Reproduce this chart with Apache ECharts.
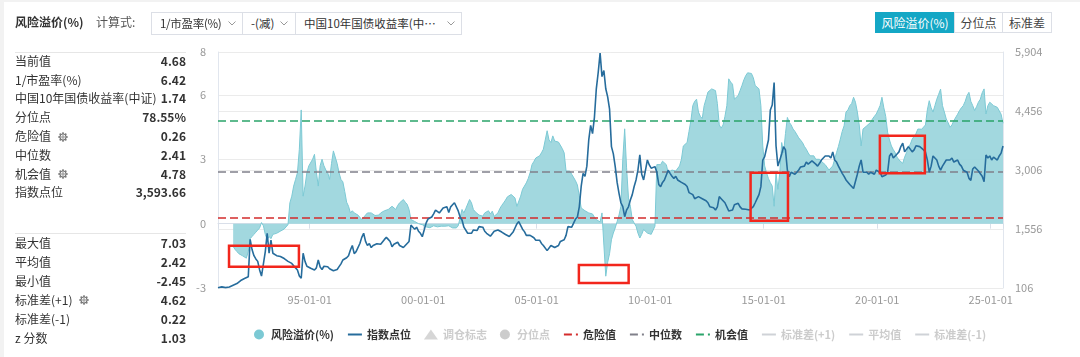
<!DOCTYPE html>
<html><head><meta charset="utf-8">
<script src="https://cdn.jsdelivr.net/npm/echarts@6/dist/echarts.min.js"></script>
<style>
html,body{margin:0;padding:0;width:1080px;height:357px;overflow:hidden;background:#f2f2f2;font-family:'Noto Sans CJK SC','Noto Sans',sans-serif;color:#333;}
#card{position:absolute;left:4px;top:2px;width:1076px;height:355px;background:#fff;}
#chart{position:absolute;left:0;top:0;width:1080px;height:357px;}
.abs{position:absolute;white-space:nowrap;}
.title{left:15px;top:13px;font-size:12px;font-weight:bold;line-height:18px;color:#333;}
.calc{left:96px;top:13px;font-size:12px;line-height:18px;color:#555;}
.dd{position:absolute;top:12px;height:23px;border:1px solid #dcdfe6;box-sizing:border-box;font-size:11.5px;line-height:21px;padding-left:8px;color:#333;background:#fff;}
.dd svg{position:absolute;top:8px;}
.btn{position:absolute;top:12px;height:21px;box-sizing:border-box;border:1px solid #dcdfe6;font-size:12px;line-height:19px;text-align:center;color:#444;background:#fff;}
.btn.on{background:#14a7c5;border-color:#14a7c5;color:#fff;}
.row{position:absolute;left:15px;width:171px;height:18px;line-height:18px;font-size:12px;display:flex;justify-content:space-between;color:#333;}
.row b{font-weight:bold;color:#333;}
.gear{display:inline-block;vertical-align:middle;margin-left:7px;margin-top:-2px;}
.sep{position:absolute;left:15px;width:171px;height:1px;background:#e6e6e6;}
</style>
</head><body>
<div id="card"></div>
<div id="chart"></div>
<div class="abs title">风险溢价(%)</div>
<div class="abs calc">计算式:</div>
<div class="dd" style="left:151px;width:92px;letter-spacing:-0.3px;">1/市盈率(%)<svg style="left:76px" width="8" height="5"><polyline points="0.5,0.5 4,4 7.5,0.5" fill="none" stroke="#999" stroke-width="1"/></svg></div>
<div class="dd" style="left:242px;width:54px;">-(减)<svg style="left:37px" width="8" height="5"><polyline points="0.5,0.5 4,4 7.5,0.5" fill="none" stroke="#999" stroke-width="1"/></svg></div>
<div class="dd" style="left:295px;width:167px;">中国10年国债收益率(中…<svg style="left:151px" width="8" height="5"><polyline points="0.5,0.5 4,4 7.5,0.5" fill="none" stroke="#999" stroke-width="1"/></svg></div>
<div class="btn on" style="left:875px;width:80px;">风险溢价(%)</div>
<div class="btn" style="left:954px;width:49px;">分位点</div>
<div class="btn" style="left:1002px;width:50px;">标准差</div>
<div id="panel"></div>
<script>
// ---------------- data ----------------
const firstMonth = [1990, 12];
const statsTop = [['当前值', '4.68', false], ['1/市盈率(%)', '6.42', false], ['中国10年国债收益率(中证)', '1.74', false], ['分位点', '78.55%', false], ['危险值', '0.26', true], ['中位数', '2.41', false], ['机会值', '4.78', true], ['指数点位', '3,593.66', false]];
const statsBottom = [['最大值', '7.03', false], ['平均值', '2.42', false], ['最小值', '-2.45', false], ['标准差(+1)', '4.62', true], ['标准差(-1)', '0.22', false], ['z 分数', '1.03', false]];

const index1990s = [110,
  131,133,125,115,113,130,140,175,185,215,230,290,
  310,340,370,384,1300,1050,900,820,760,550,400,700,
  1000,1450,960,1280,960,980,900,870,880,850,830,800,
  760,740,710,650,600,548,400,344,959,760,640,620,
  590,570,548,600,794,620,560,640,680,630,580,548,
  530,507,560,630,700,794,800,850,900,1040,1150,950,
  1000,1020,1200,1350,1450,1250,1150,1200,1100,1150,1150,1194,
  1200,1180,1200,1300,1350,1300,1250,1120,1180,1200,1230,1150,
  1130,1100,1150,1120,1250,1650,1600,1550,1600,1500,1450,1366];
const index2000s = [
  1530,1700,1800,1836,1850,1928,2020,2040,1950,1990,2070,2073,
  2100,1960,2100,2150,2200,2216,2000,1850,1777,1600,1600,1450,
  1450,1450,1532,1550,1520,1614,1580,1600,1500,1450,1409,1380,
  1368,1500,1480,1532,1550,1480,1470,1420,1380,1370,1400,1480,
  1580,1680,1737,1700,1550,1491,1400,1380,1400,1368,1340,1280,
  1245,1280,1200,1150,1122,1024,1050,1150,1150,1100,1100,1150,
  1250,1286,1290,1400,1614,1650,1600,1620,1800,1850,2100,2600,
  2923,2850,3100,3743,4100,3900,4300,5000,5400,5875,5300,5450,
  5000,4800,4500,3580,3400,3088,2700,2432,2200,2104,1858,2022,
  2100,2269,2400,2600,2760,3000,3375,2900,2760,3000,3252,3130];
const index2010s = [
  3050,3050,3088,2950,2650,2596,2700,2760,2800,3000,2923,2850,
  2800,2850,2760,2800,2700,2678,2650,2600,2450,2432,2400,2300,
  2300,2350,2330,2300,2269,2250,2200,2104,2100,2080,2022,2100,
  2350,2300,2250,2200,2187,2000,1990,2022,2150,2150,2187,2100,
  2050,2063,2040,2030,2022,2030,2104,2200,2300,2400,2596,3250,
  3334,3300,3743,4481,4600,5153,3600,3100,3088,3400,3580,3500,
  3006,2841,2950,2950,2900,2950,3006,3080,3050,3100,3200,3150,
  3150,3230,3230,3150,3100,3170,3250,3300,3350,3390,3350,3300,
  3450,3250,3200,3100,3100,2923,2850,2760,2800,2650,2620,2550,
  2596,2900,3100,3252,2950,2950,2950,2900,2950,2950,2900,3000];
const index2020s = [
  3047,2950,2841,2850,2880,2950,3350,3416,3300,3300,3400,3450,
  3580,3662,3450,3450,3580,3590,3450,3500,3600,3580,3580,3621,
  3500,3450,3252,2950,3100,3350,3300,3250,3100,3000,3100,3100,
  3250,3280,3250,3300,3200,3200,3250,3150,3100,3000,3030,2950,
  2800,2750,3030,3080,3100,2980,2950,2850,2719,3375,3300,3350,
  3250,3320,3350,3250,3350,3420,3593.66];

const premium1990s = [null,
  null,null,null,null,null,null,null,-1.06,-1.2,-1.3,-1.4,-1.45,
  -1.5,-1.55,-1.61,-1.3,-0.7,-0.6,-0.5,-0.4,-0.3,-0.2,0.05,-0.1,
  -0.5,-0.75,-0.6,-0.7,-0.5,-0.5,-0.45,-0.4,-0.35,-0.3,-0.25,-0.2,
  -0.05,0.97,1.28,1.75,2.06,2.37,3.47,5.3,1.28,1.75,2.38,2.69,
  2.69,3.0,3.23,2.4,1.75,2.7,3.0,2.7,2.5,2.38,2.06,2.8,
  3.39,3.3,2.8,2.37,2.06,1.95,1.5,1.0,0.81,0.5,0.6,0.5,
  0.45,0.4,0.34,0.19,0.25,0.4,0.5,0.45,0.5,0.42,0.38,0.34,
  0.4,0.5,0.5,0.6,0.66,0.66,0.7,0.81,0.75,0.66,0.85,0.97,
  1.0,1.125,1.0,0.9,0.66,0.19,0.15,0.1,0.05,0.0,-0.03,-0.05];
const premium2000s = [
  -0.12,-0.15,-0.19,-0.19,-0.15,-0.1,-0.12,-0.15,-0.1,-0.12,-0.15,-0.12,
  -0.15,-0.1,-0.15,-0.2,-0.2,-0.2,-0.1,-0.03,0.66,0.5,0.7,0.75,
  1.125,0.97,0.66,0.55,0.5,0.4,0.45,0.35,0.5,0.55,0.6,0.45,
  0.58,0.34,0.4,0.5,0.7,0.85,0.97,1.1,1.25,1.3,1.36,1.4,
  1.2,0.8,0.73,1.28,1.6,1.75,1.9,2.1,2.37,2.75,2.9,3.06,
  3.1,3.16,3.3,3.47,3.9,4.33,3.9,3.78,4.09,3.85,3.9,3.8,
  3.75,3.5,3.3,2.45,2.45,2.45,2.3,2.22,2.0,1.8,1.3,0.73,
  0.66,0.6,0.56,0.5,0.42,0.45,0.3,0.19,0.12,0.08,0.5,-1.0,
  -2.45,-1.8,-1.4,-0.75,-0.44,-0.2,0.1,0.4,0.81,3.0,4.42,2.6,
  1.2,0.81,0.19,0.03,-0.12,-0.44,-0.67,-0.5,-0.27,-0.35,-0.44,-0.52];
const premium2010s = [
  -0.5,-0.44,-0.12,2.75,2.8,2.75,2.91,2.85,2.75,2.37,2.45,2.5,
  2.5,2.45,2.5,2.69,3.0,3.62,3.7,3.78,4.3,4.8,5.5,5.7,
  5.8,5.2,5.0,4.9,5.5,5.8,6.13,6.2,6.28,6.2,6.2,5.6,
  4.6,4.45,4.6,5.0,5.5,6.75,6.6,6.5,5.8,5.85,5.97,6.2,
  6.44,6.7,6.9,7.03,7.03,7.0,6.8,6.44,6.35,6.28,5.5,3.62,
  2.69,2.37,2.1,1.91,1.75,0.81,2.37,1.6,2.37,3.78,3.3,4.2,
  4.95,4.72,4.6,4.41,4.3,4.25,4.0,3.94,3.78,3.6,3.47,3.3,
  3.16,3.16,3.16,3.0,3.0,3.0,2.9,2.84,2.75,2.69,2.5,2.45,
  2.69,3.0,3.31,3.6,3.94,4.3,4.56,5.2,5.3,5.5,5.6,5.89,
  5.66,5.2,4.6,3.62,4.41,4.5,4.56,4.65,4.72,4.88,5.0,5.11];
const premium2020s = [
  5.3,5.5,5.89,5.4,5.0,4.26,3.9,3.62,3.45,3.31,3.1,2.97,
  2.9,2.81,3.1,3.31,3.6,3.7,3.94,4.0,4.2,4.41,4.41,4.4,
  4.41,4.6,5.3,5.73,5.4,5.2,5.5,5.8,6.03,6.27,5.5,5.2,
  4.88,4.7,4.49,4.6,4.8,4.88,5.1,5.27,5.4,5.5,5.7,5.97,
  6.12,5.7,5.5,5.27,5.45,5.66,5.8,6.1,6.28,5.11,5.5,5.66,
  5.6,5.5,5.45,5.42,5.34,5.1,4.68];

const levelDanger = 0.26, levelMedian = 2.41, levelChance = 4.78;
const levelSdPlus = 4.62, levelMean = 2.42, levelSdMinus = 0.22;
const leftTicks = { min: -3, max: 8, interval: 3 };
const rightTicks = { min: 106, max: 5904, interval: 1450 };
const highlightBoxes = [
  ['1991-06-12', -1.03, '1994-07-11', -2.01],
  ['2006-11-10', -1.93, '2009-01-19', -2.77],
  ['2014-06-04', 2.37, '2016-01-26', 0.14],
  ['2020-02-13', 4.10, '2022-02-06', 2.35]
];
// ---------------------------------------

const indexValues = [].concat(index1990s, index2000s, index2010s, index2020s);
const premiumValues = [].concat(premium1990s, premium2000s, premium2010s, premium2020s);
function monthPos(i) {
  const m0 = firstMonth[1] - 1 + i;
  const y = firstMonth[0] + Math.floor(m0 / 12);
  const m = (m0 % 12) + 1;
  return y + (m - 0.5) / 12;
}
function datePos(s) {
  const p = s.split('-').map(Number);
  const a = Date.UTC(p[0], 0, 1), b = Date.UTC(p[0] + 1, 0, 1);
  return p[0] + (Date.UTC(p[0], p[1] - 1, p[2]) - a) / (b - a);
}
const xs = indexValues.map((_, i) => monthPos(i));
const xMin = xs[0], xMax = xs[xs.length - 1];
const indexData = indexValues.map((v, i) => [xs[i], v]);
const premiumData = premiumValues.map((v, i) => [xs[i], v]);
const flat = v => [[xMin, v], [xMax, v]];

// panel
const panel = document.getElementById('panel');
let teeth = '';
for (let k = 0; k < 8; k++) {
  teeth += '<rect x="4.2" y="0.3" width="1.6" height="2.2" fill="#777" transform="rotate(' + (k * 45) + ' 5 5)"/>';
}
const gearSvg = '<svg class="gear" width="10" height="10" viewBox="0 0 10 10">' + teeth +
  '<circle cx="5" cy="5" r="3" fill="#fff" stroke="#777" stroke-width="1.1"/><circle cx="5" cy="5" r="1.2" fill="none" stroke="#777" stroke-width="0.9"/></svg>';
function addRows(list, y0, step) {
  list.forEach((r, i) => {
    const d = document.createElement('div');
    d.className = 'row';
    d.style.top = (y0 + i * step - 9) + 'px';
    d.innerHTML = '<span>' + r[0] + (r[2] ? gearSvg : '') + '</span><b>' + r[1] + '</b>';
    panel.appendChild(d);
  });
}
addRows(statsTop, 60.7, 18.8);
addRows(statsBottom, 243, 18.9);
[52, 233].forEach(y => { const s = document.createElement('div'); s.className = 'sep'; s.style.top = y + 'px'; panel.appendChild(s); });

const chart = echarts.init(document.getElementById('chart'), null, { renderer: 'canvas' });
const font = "'Noto Sans CJK SC', 'Noto Sans', sans-serif";
const dashed = (name, v, color) => ({
  name, type: 'line', yAxisIndex: 0, data: flat(v), symbol: 'none', silent: true,
  lineStyle: { color, width: 1.5, type: [8, 4] }, itemStyle: { color }, z: 3
});
chart.setOption({
  animation: false,
  textStyle: { fontFamily: font },
  grid: { left: 218, right: 77, top: 52, bottom: 69 },
  legend: {
    left: 249, top: 324, itemWidth: 14, itemHeight: 10, itemGap: 13,
    textStyle: { fontSize: 11, color: '#333', fontWeight: 'bold', fontFamily: font },
    inactiveColor: '#ccc',
    selected: { '调仓标志': false, '分位点': false, '标准差(+1)': false, '平均值': false, '标准差(-1)': false },
    data: [
      { name: '风险溢价(%)', icon: 'circle' },
      { name: '指数点位', itemStyle: { opacity: 0 } },
      { name: '调仓标志', icon: 'triangle' },
      { name: '分位点', icon: 'circle' },
      { name: '危险值', itemStyle: { opacity: 0 } },
      { name: '中位数', itemStyle: { opacity: 0 } },
      { name: '机会值', itemStyle: { opacity: 0 } },
      { name: '标准差(+1)', itemStyle: { opacity: 0 } },
      { name: '平均值', itemStyle: { opacity: 0 } },
      { name: '标准差(-1)', itemStyle: { opacity: 0 } }
    ]
  },
  xAxis: {
    type: 'value', min: xMin, max: xMax, splitNumber: 5,
    axisLine: { lineStyle: { color: '#d9dfe9' } },
    axisTick: { lineStyle: { color: '#d9dfe9' } },
    splitLine: { show: false },
    axisLabel: {
      color: '#999', fontSize: 11, margin: 6,
      formatter: v => {
        const r = Math.round(v);
        if (Math.abs(v - r) > 1e-6 || r % 5 !== 0) return '';
        return String(r % 100).padStart(2, '0') + '-01-01';
      }
    }
  },
  yAxis: [
    {
      type: 'value', min: leftTicks.min, max: leftTicks.max, interval: leftTicks.interval,
      axisLine: { show: true, lineStyle: { color: '#e1e6ee' } }, axisTick: { show: false },
      splitLine: { lineStyle: { color: '#ebebeb' } },
      axisLabel: { color: '#999', fontSize: 11, margin: 12 }
    },
    {
      type: 'value', position: 'right', min: rightTicks.min, max: rightTicks.max, interval: rightTicks.interval,
      axisLine: { show: true, lineStyle: { color: '#e1e6ee' } }, axisTick: { show: false },
      splitLine: { lineStyle: { color: '#ebebeb' } },
      axisLabel: { color: '#999', fontSize: 11, margin: 12, formatter: v => Math.round(v).toLocaleString('en-US') }
    }
  ],
  series: [
    {
      name: '风险溢价(%)', type: 'line', yAxisIndex: 0, data: premiumData, symbol: 'none',
      lineStyle: { color: '#7cc9d4', width: 1 }, itemStyle: { color: '#7cc9d4' },
      areaStyle: { color: '#9dd6dd', opacity: 0.95 }, z: 1
    },
    {
      name: '指数点位', type: 'line', yAxisIndex: 1, data: indexData, symbol: 'none',
      lineStyle: { color: '#266c9c', width: 1.6 }, itemStyle: { color: '#266c9c' }, z: 5
    },
    { name: '调仓标志', type: 'scatter', yAxisIndex: 1, data: [], symbol: 'triangle', itemStyle: { color: '#e0a030' } },
    { name: '分位点', type: 'line', yAxisIndex: 0, data: [], symbol: 'circle', itemStyle: { color: '#999' } },
    dashed('危险值', levelDanger, '#d42c2c'),
    dashed('中位数', levelMedian, '#80808a'),
    dashed('机会值', levelChance, '#2aa46a'),
    dashed('标准差(+1)', levelSdPlus, '#aaaaaa'),
    dashed('平均值', levelMean, '#aaaaaa'),
    dashed('标准差(-1)', levelSdMinus, '#aaaaaa'),
    {
      name: 'highlight', type: 'line', yAxisIndex: 0, data: flat(0), symbol: 'none', silent: true,
      lineStyle: { opacity: 0 }, z: 10,
      markArea: {
        silent: true, z: 10,
        itemStyle: { color: 'rgba(0,0,0,0)', borderColor: '#f2261c', borderWidth: 2.5 },
        label: { show: false },
        data: highlightBoxes.map(b => [{ xAxis: datePos(b[0]), yAxis: b[1] }, { xAxis: datePos(b[2]), yAxis: b[3] }])
      }
    }
  ]
});
</script>
</body></html>
